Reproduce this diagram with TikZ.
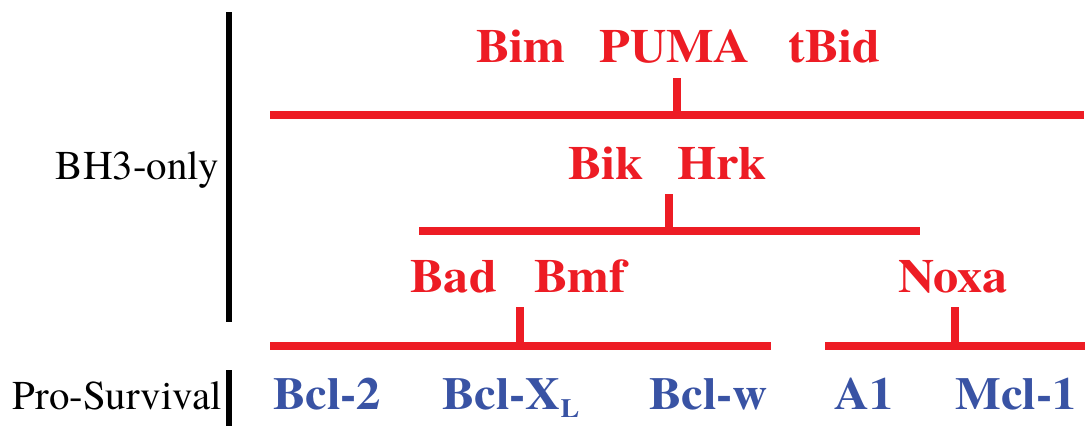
\documentclass[tikz,border=0pt]{standalone}
\usepackage{fontspec}
\setmainfont{texgyretermes}[Extension=.otf, UprightFont=*-regular, BoldFont=*-bold, ItalicFont=*-italic, BoldItalicFont=*-bolditalic, BoldFeatures={FakeStretch=1.06}]
\definecolor{bred}{HTML}{ED1C24}
\definecolor{bblue}{HTML}{3953A4}
\begin{document}
\begin{tikzpicture}[x=0.02cm,y=-0.02cm,
  redlab/.style={anchor=base west, inner sep=0, text=bred, font=\fontsize{27}{30}\selectfont\bfseries},
  bluelab/.style={anchor=base west, inner sep=0, text=bblue, font=\fontsize{26}{30}\selectfont\bfseries},
  catlab/.style={anchor=base east, inner sep=0, font=\fontsize{23.3}{28}\selectfont},
  bar/.style={draw=bred, line width=4pt},
  sepline/.style={draw=black, line width=3.4pt}]
\useasboundingbox (0,0) rectangle (1090,426);
% category labels and separators
\node[catlab] (bh3) at (219,179) {BH3-only};
\node[catlab] (pro) at (222,409) {Pro-Survival};
\coordinate (s1a) at (229,12);
\coordinate (s1b) at (229,322);
\coordinate (s2a) at (229,370);
\coordinate (s2b) at (229,426);
\draw[sepline] (s1a) -- (s1b);
\draw[sepline] (s2a) -- (s2b);
% BH3-only proteins
\node[redlab] (bim) at (476,62) {Bim};
\node[redlab] (puma) at (599,62) {PUMA};
\node[redlab] (tbid) at (788,62) {tBid};
\node[redlab] (bik) at (568,179) {Bik};
\node[redlab] (hrk) at (677,179) {Hrk};
\node[redlab] (bad) at (410,292) {Bad};
\node[redlab] (bmf) at (534,292) {Bmf};
\node[redlab] (noxa) at (898,292) {Noxa};
% pro-survival proteins
\node[bluelab] (bcl2) at (273,409) {Bcl-2};
\node[bluelab] (bclxl) at (442,409) {Bcl-X\raisebox{-5pt}{\fontsize{15}{15}\selectfont L}};
\node[bluelab] (bclw) at (649,409) {Bcl-w};
\node[bluelab] (a1) at (834,409) {A1};
\node[bluelab] (mcl1) at (955,409) {Mcl-1};
% binding bars
\coordinate (l1a) at (270,115); \coordinate (l1b) at (1084,115);
\coordinate (t1a) at (677,78);  \coordinate (t1b) at (677,115);
\coordinate (l2a) at (419,231); \coordinate (l2b) at (920,231);
\coordinate (t2a) at (669,194); \coordinate (t2b) at (669,231);
\coordinate (l3a) at (270,346); \coordinate (l3b) at (771,346);
\coordinate (t3a) at (520,307); \coordinate (t3b) at (520,346);
\coordinate (l4a) at (825,346); \coordinate (l4b) at (1085,346);
\coordinate (t4a) at (955,307); \coordinate (t4b) at (955,346);
\draw[bar] (l1a) -- (l1b);
\draw[bar] (t1a) -- (t1b);
\draw[bar] (l2a) -- (l2b);
\draw[bar] (t2a) -- (t2b);
\draw[bar] (l3a) -- (l3b);
\draw[bar] (t3a) -- (t3b);
\draw[bar] (l4a) -- (l4b);
\draw[bar] (t4a) -- (t4b);
\end{tikzpicture}
\end{document}
